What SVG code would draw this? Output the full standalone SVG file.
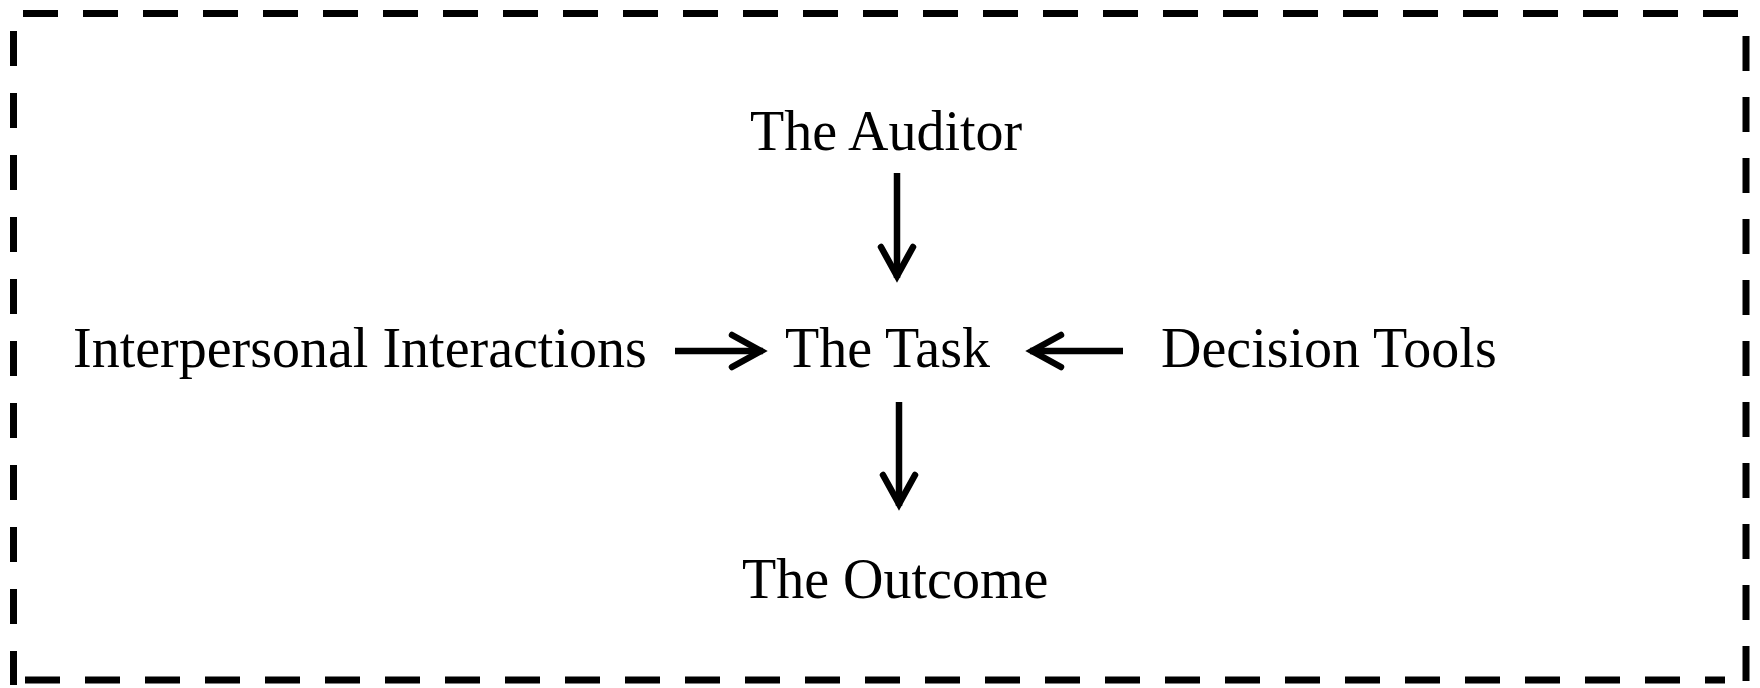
<svg xmlns="http://www.w3.org/2000/svg" width="1760" height="688" viewBox="0 0 1760 688">
  <style>
    .border { stroke: #000; stroke-width: 7; fill: none; }
    .lbl { font-family: "Liberation Serif", "Times New Roman", serif; font-size: 56px; fill: #000; }
    .conn { stroke: #000; stroke-width: 6.5; fill: none; }
  </style>
  <defs>
    <marker id="head" markerUnits="userSpaceOnUse" markerWidth="50" markerHeight="50" viewBox="-40 -25 50 50" refX="0" refY="0" orient="auto">
      <path d="M-31,-16 L-2,0 L-31,16" fill="none" stroke="#000" stroke-width="6.5" stroke-linejoin="miter" stroke-linecap="round"/>
    </marker>
  </defs>
  <rect x="0" y="0" width="1760" height="688" fill="#fff"/>
  <g id="border">
    <path class="border" d="M23,13.5 H1750" stroke-dasharray="35 25"/>
    <path class="border" d="M13.5,31 V685" stroke-dasharray="35 27"/>
    <path class="border" d="M1746,36 V685" stroke-dasharray="35 26"/>
    <path class="border" d="M25,680 H1725" stroke-dasharray="35 25"/>
  </g>
  <g id="node-auditor"><text class="lbl" x="750" y="150">The Auditor</text></g>
  <g id="node-interpersonal"><text class="lbl" x="73" y="367">Interpersonal Interactions</text></g>
  <g id="node-task"><text class="lbl" x="785" y="367">The Task</text></g>
  <g id="node-decision"><text class="lbl" x="1161" y="367">Decision Tools</text></g>
  <g id="node-outcome"><text class="lbl" x="742" y="598">The Outcome</text></g>
  <g id="connectors">
    <path class="conn" d="M897,173 V278" marker-end="url(#head)"/>
    <path class="conn" d="M675,351 H763" marker-end="url(#head)"/>
    <path class="conn" d="M1123,351 H1030" marker-end="url(#head)"/>
    <path class="conn" d="M899,402 V506" marker-end="url(#head)"/>
  </g>
</svg>
